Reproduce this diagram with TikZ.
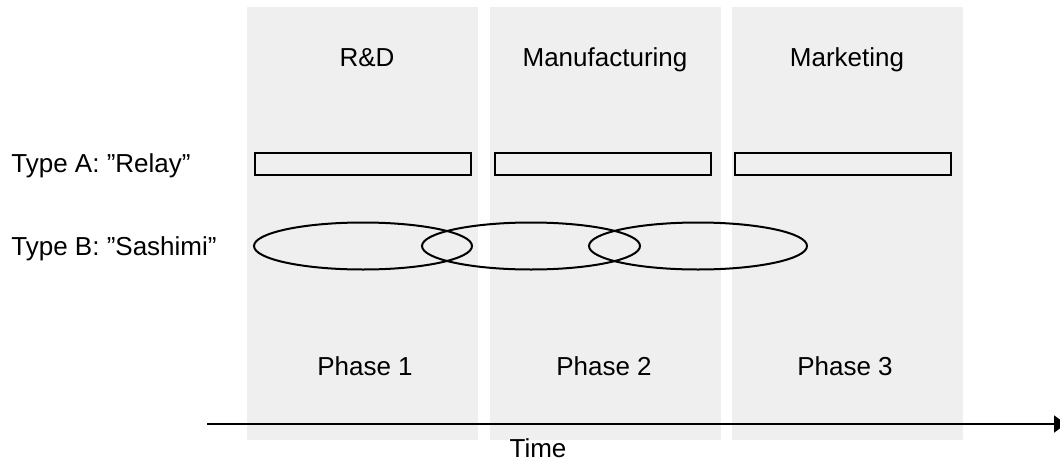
\documentclass[tikz,border=0pt]{standalone}
\usepackage{fontspec}
\setmainfont{Liberation Sans}
\usepackage{tikz}
\usetikzlibrary{shapes.geometric, arrows.meta, positioning}
\definecolor{phasegray}{HTML}{EFEFEF}

\begin{document}
\begin{tikzpicture}[
  x=0.5pt, y=-0.5pt,
  font=\fontsize{13pt}{15pt}\selectfont,
  phase/.style={rectangle, fill=phasegray, draw=none, inner sep=0pt,
    minimum width=115.5pt, minimum height=216.5pt},
  relay/.style={rectangle, draw=black, line width=1pt, inner sep=0pt,
    minimum width=108pt, minimum height=11pt},
  sashimi/.style={ellipse, draw=black, line width=1pt, inner sep=0pt,
    minimum width=109pt, minimum height=23.5pt},
  txt/.style={inner sep=0pt, anchor=base},
  arrow/.style={-{Triangle[length=6pt, width=8.5pt]}, line width=1pt}
]
\useasboundingbox (0,0) rectangle (1060,461);
% shaded phase columns
\node[phase] (p1) at (362.5,223.5) {};
\node[phase] (p2) at (605.5,223.5) {};
\node[phase] (p3) at (847.5,223.5) {};
\node[txt] (rd) at (367,66) {R\&D};
\node[txt] (mf) at (605,66) {Manufacturing};
\node[txt] (mk) at (847,66) {Marketing};
\node[txt] (ph1) at (365,375) {Phase 1};
\node[txt] (ph2) at (604,375) {Phase 2};
\node[txt] (ph3) at (845,375) {Phase 3};
% row labels
\node[inner sep=0pt, anchor=west] (ta) at (11,166) {Type A: ”Relay”};
\node[inner sep=0pt, anchor=west] (tb) at (11,249) {Type B: ”Sashimi”};
% relay: separate boxes
\node[relay] (r1) at (363,164) {};
\node[relay] (r2) at (603,164) {};
\node[relay] (r3) at (843,164) {};
% sashimi: overlapping ellipses
\node[sashimi] (e1) at (363,246) {};
\node[sashimi] (e2) at (531,246) {};
\node[sashimi] (e3) at (698,246) {};
% time axis
\coordinate (t0) at (207,424);
\coordinate (t1) at (1066,424);
\draw[arrow] (t0) -- (t1);
\node[txt] (time) at (538,457) {Time};
\end{tikzpicture}
\end{document}
